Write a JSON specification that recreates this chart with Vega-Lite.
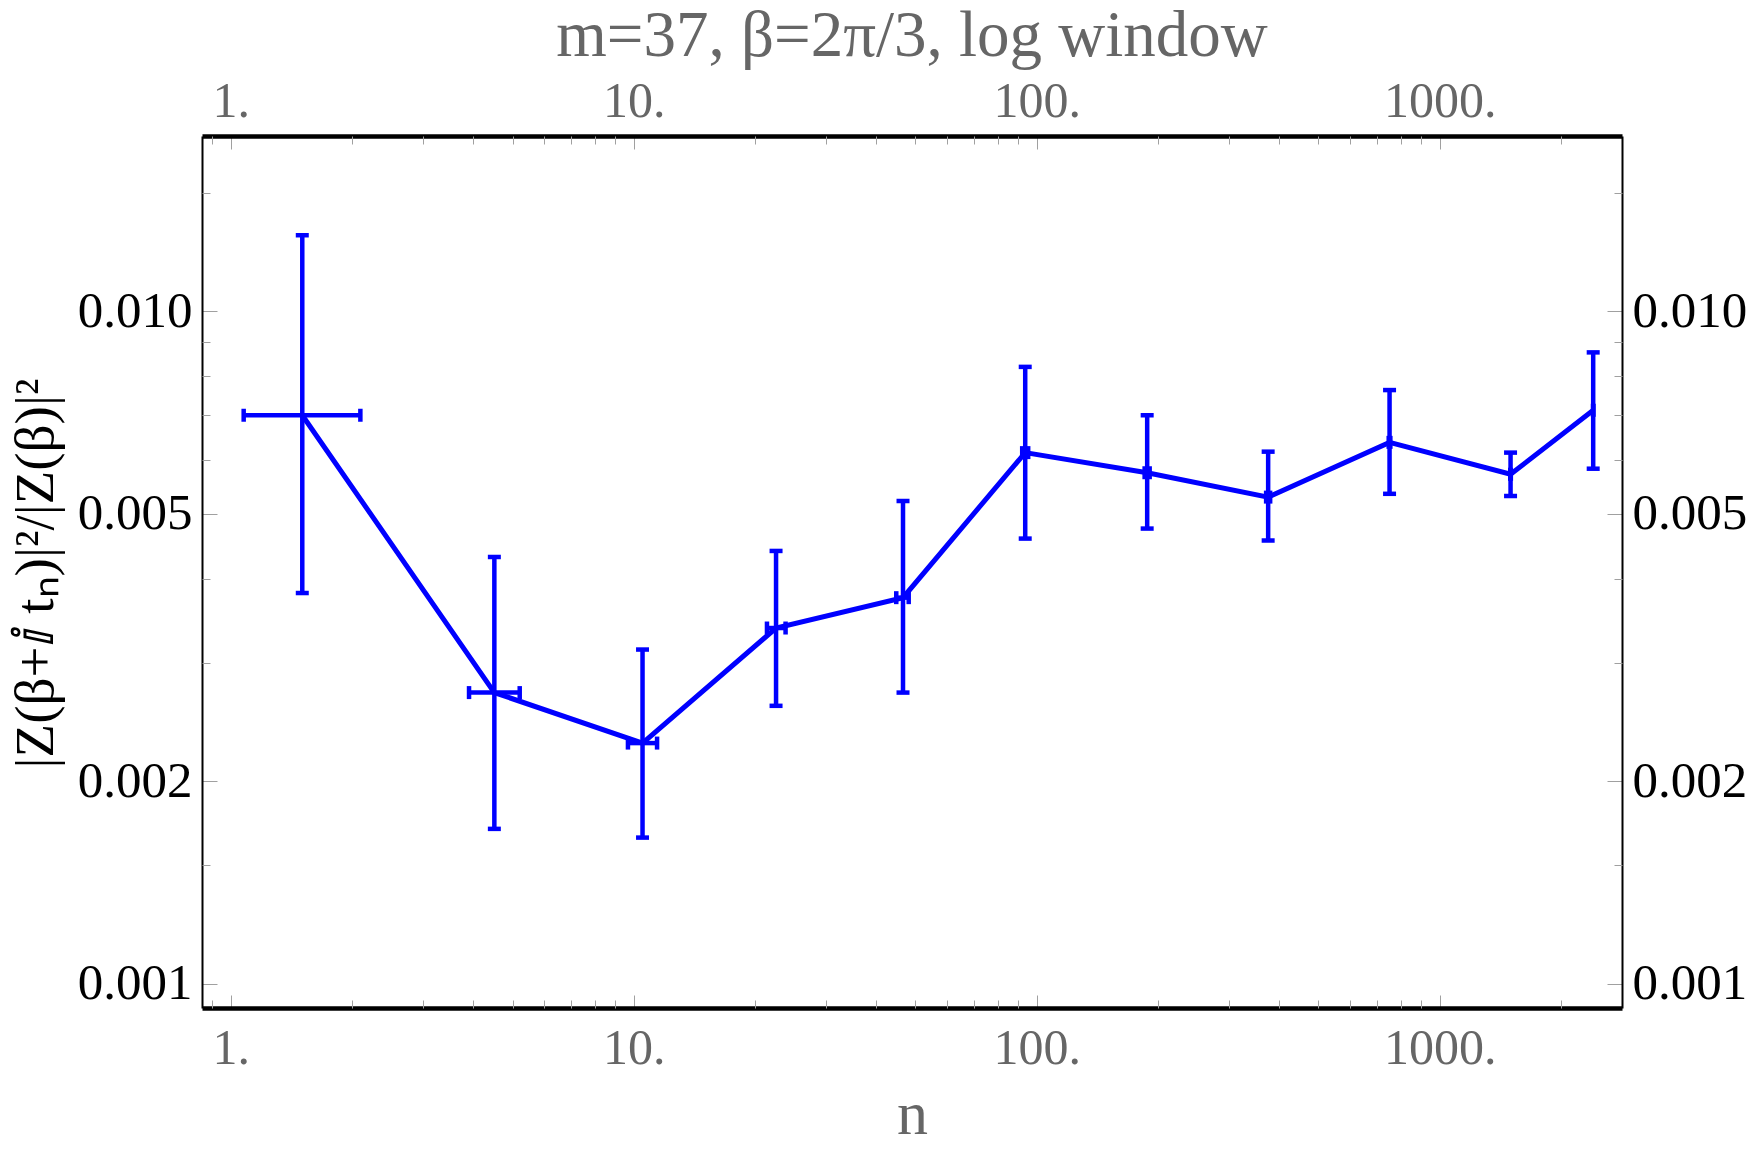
{
  "$schema": "https://vega.github.io/schema/vega-lite/v6.json",
  "width": 1420,
  "height": 872,
  "autosize": "none",
  "padding": {"left": 202, "top": 136, "right": 128, "bottom": 145},
  "background": "white",
  "title": {
    "text": "m=37, β=2π/3, log window",
    "font": "Liberation Serif",
    "fontSize": 65,
    "fontWeight": "normal",
    "color": "#666666",
    "anchor": "middle",
    "baseline": "alphabetic",
    "offset": -45
  },
  "config": {
    "view": {"stroke": null},
    "font": "Liberation Serif"
  },
  "data": {
    "values": [
      {"n": 1.504, "v": 0.00700, "lo": 0.00381, "hi": 0.01296, "nlo": 1.076, "nhi": 2.096},
      {"n": 4.507, "v": 0.00271, "lo": 0.00170, "hi": 0.00431, "nlo": 3.90, "nhi": 5.21},
      {"n": 10.51, "v": 0.00228, "lo": 0.00165, "hi": 0.00314, "nlo": 9.67, "nhi": 11.42},
      {"n": 22.54, "v": 0.00338, "lo": 0.00259, "hi": 0.00440, "nlo": 21.4, "nhi": 23.8},
      {"n": 46.56, "v": 0.00375, "lo": 0.00271, "hi": 0.00522, "nlo": 44.8, "nhi": 48.1},
      {"n": 93.6, "v": 0.00616, "lo": 0.00459, "hi": 0.00826, "nlo": 92.0, "nhi": 95.2},
      {"n": 187.9, "v": 0.00575, "lo": 0.00475, "hi": 0.00700, "nlo": 185.2, "nhi": 190.6},
      {"n": 375.1, "v": 0.00529, "lo": 0.00456, "hi": 0.00618, "nlo": 370.8, "nhi": 379.4},
      {"n": 750.6, "v": 0.00638, "lo": 0.00535, "hi": 0.00763, "nlo": 747.0, "nhi": 754.0},
      {"n": 1498.6, "v": 0.00572, "lo": 0.00531, "hi": 0.00616, "nlo": 1496.0, "nhi": 1501.0},
      {"n": 2403, "v": 0.00712, "lo": 0.00583, "hi": 0.00868, "nlo": 2401, "nhi": 2405}
    ]
  },
  "resolve": {"axis": {"x": "independent", "y": "independent"}},
  "layer": [
    {
      "mark": {"type": "rule", "color": "#0000ff", "strokeWidth": 4.5, "opacity": 1},
      "encoding": {
        "x": {
          "field": "n", "type": "quantitative",
          "scale": {"type": "log", "domain": [0.848, 2833], "nice": false, "zero": false},
          "axis": {
            "orient": "bottom", "values": [1, 10, 100, 1000],
            "labelExpr": "datum.value + '.'",
            "labelFont": "Liberation Serif", "labelFontSize": 50, "labelColor": "#666666",
            "labelPadding": 28, "labelFlush": false, "labelOverlap": false, "labelBound": false,
            "tickSize": -13, "tickColor": "#a0a0a0", "tickWidth": 1,
            "domain": true, "domainColor": "#000000", "domainWidth": 4.5,
            "grid": false,
            "title": "n", "titleFont": "Liberation Serif", "titleFontSize": 62,
            "titleFontWeight": "normal", "titleColor": "#666666",
            "titleX": 710, "titleY": 125, "titleBaseline": "alphabetic", "titleAlign": "center"
          }
        },
        "y": {
          "field": "lo", "type": "quantitative",
          "scale": {"type": "log", "domain": [0.000921, 0.0182], "nice": false, "zero": false},
          "axis": {
            "orient": "left", "values": [0.001, 0.002, 0.005, 0.01],
            "format": ".3f",
            "labelFont": "Liberation Serif", "labelFontSize": 51, "labelColor": "#000000",
            "labelPadding": 25, "labelOverlap": false, "labelBound": false, "labelFlush": false,
            "tickSize": -15, "tickColor": "#a0a0a0", "tickWidth": 1,
            "domain": true, "domainColor": "#000000", "domainWidth": 2,
            "grid": false,
            "title": "|Z(β+ⅈ tₙ)|²/|Z(β)|²", "titleFont": "Liberation Serif", "titleFontSize": 55,
            "titleFontWeight": "normal", "titleColor": "#000000",
            "titleAngle": -90, "titleX": -150, "titleY": 437,
            "titleBaseline": "alphabetic", "titleAlign": "center"
          }
        },
        "y2": {"field": "hi"}
      }
    },
    {
      "mark": {"type": "rule", "color": "#0000ff", "strokeWidth": 4.5, "opacity": 1},
      "encoding": {
        "x": {
          "field": "nlo", "type": "quantitative",
          "axis": {
            "orient": "top", "values": [1, 10, 100, 1000],
            "labelExpr": "datum.value + '.'",
            "labelFont": "Liberation Serif", "labelFontSize": 50, "labelColor": "#666666",
            "labelPadding": 23, "labelFlush": false, "labelOverlap": false, "labelBound": false,
            "tickSize": -13, "tickColor": "#a0a0a0", "tickWidth": 1,
            "domain": true, "domainColor": "#000000", "domainWidth": 4.5,
            "grid": false, "title": null
          }
        },
        "x2": {"field": "nhi"},
        "y": {
          "field": "v", "type": "quantitative",
          "axis": {
            "orient": "right", "values": [0.001, 0.002, 0.005, 0.01],
            "format": ".3f",
            "labelFont": "Liberation Serif", "labelFontSize": 51, "labelColor": "#000000",
            "labelPadding": 25, "labelOverlap": false, "labelBound": false, "labelFlush": false,
            "tickSize": -15, "tickColor": "#a0a0a0", "tickWidth": 1,
            "domain": true, "domainColor": "#000000", "domainWidth": 2,
            "grid": false, "title": null
          }
        }
      }
    },
    {
      "mark": {"type": "line", "color": "#0000ff", "strokeWidth": 5, "opacity": 1},
      "encoding": {
        "x": {
          "field": "n", "type": "quantitative",
          "axis": {
            "orient": "bottom",
            "values": [0.9, 2, 3, 4, 5, 6, 7, 8, 9, 20, 30, 40, 50, 60, 70, 80, 90, 200, 300, 400, 500, 600, 700, 800, 900, 2000],
            "labels": false, "domain": false, "grid": false,
            "tickSize": -8, "tickColor": "#a0a0a0", "tickWidth": 1, "title": null
          }
        },
        "y": {
          "field": "v", "type": "quantitative",
          "axis": {
            "orient": "left",
            "values": [0.0015, 0.003, 0.004, 0.006, 0.007, 0.008, 0.009, 0.015],
            "labels": false, "domain": false, "grid": false,
            "tickSize": -8, "tickColor": "#a0a0a0", "tickWidth": 1, "title": null
          }
        }
      }
    },
    {
      "mark": {"type": "tick", "orient": "horizontal", "color": "#0000ff", "size": 13, "thickness": 4.5, "opacity": 1},
      "encoding": {
        "x": {
          "field": "n", "type": "quantitative",
          "axis": {
            "orient": "top",
            "values": [0.9, 2, 3, 4, 5, 6, 7, 8, 9, 20, 30, 40, 50, 60, 70, 80, 90, 200, 300, 400, 500, 600, 700, 800, 900, 2000],
            "labels": false, "domain": false, "grid": false,
            "tickSize": -8, "tickColor": "#a0a0a0", "tickWidth": 1, "title": null
          }
        },
        "y": {
          "field": "hi", "type": "quantitative",
          "axis": {
            "orient": "right",
            "values": [0.0015, 0.003, 0.004, 0.006, 0.007, 0.008, 0.009, 0.015],
            "labels": false, "domain": false, "grid": false,
            "tickSize": -8, "tickColor": "#a0a0a0", "tickWidth": 1, "title": null
          }
        }
      }
    },
    {
      "mark": {"type": "tick", "orient": "horizontal", "color": "#0000ff", "size": 13, "thickness": 4.5, "opacity": 1},
      "encoding": {
        "x": {"field": "n", "type": "quantitative", "axis": null},
        "y": {"field": "lo", "type": "quantitative", "axis": null}
      }
    },
    {
      "mark": {"type": "tick", "orient": "vertical", "color": "#0000ff", "size": 13, "thickness": 4.5, "opacity": 1},
      "encoding": {
        "x": {"field": "nlo", "type": "quantitative", "axis": null},
        "y": {"field": "v", "type": "quantitative", "axis": null}
      }
    },
    {
      "mark": {"type": "tick", "orient": "vertical", "color": "#0000ff", "size": 13, "thickness": 4.5, "opacity": 1},
      "encoding": {
        "x": {"field": "nhi", "type": "quantitative", "axis": null},
        "y": {"field": "v", "type": "quantitative", "axis": null}
      }
    }
  ]
}
